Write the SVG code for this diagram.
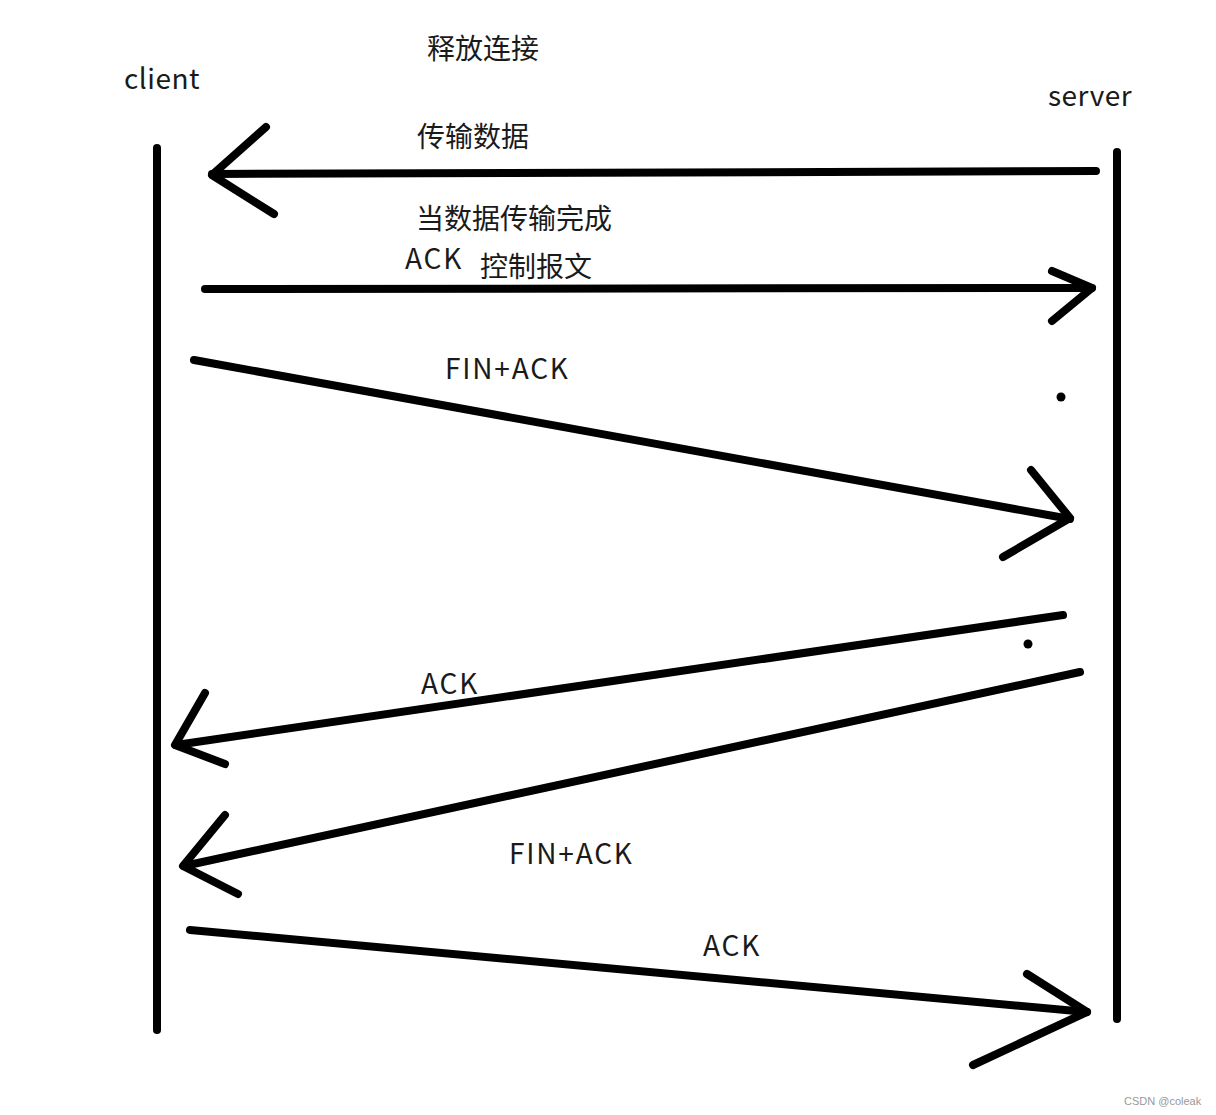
<svg xmlns="http://www.w3.org/2000/svg" width="1216" height="1115" viewBox="0 0 1216 1115">
<style>
.ln{stroke:#000;stroke-width:8;stroke-linecap:round;stroke-linejoin:round;fill:none}
.t{font-family:"Noto Sans CJK SC","Noto Sans",sans-serif;font-size:28px;letter-spacing:1.8px;fill:#1a1a1a}
.c{font-family:"Noto Sans CJK SC","Noto Sans",sans-serif;font-size:28px;fill:#1a1a1a}
</style>
<rect width="1216" height="1115" fill="#fff"/>
<g id="client">
<line class="ln" x1="157" y1="148" x2="157" y2="1030"/>
<text class="t" x="124" y="89" style="letter-spacing:0.5px">client</text>
</g>
<g id="server">
<line class="ln" x1="1117" y1="152" x2="1117" y2="1019"/>
<text class="t" x="1048" y="106" style="letter-spacing:0.5px">server</text>
</g>
<g id="title"><text class="c" x="427" y="59">释放连接</text></g>
<g id="connectors">
<polyline class="ln" points="1096,171 212,174"/>
<polyline class="ln" points="266,127 212,175 274,214"/>
<polyline class="ln" points="205,289 1092,288"/>
<polyline class="ln" points="1052,271 1092,288 1052,321"/>
<polyline class="ln" points="194,360 1070,519"/>
<polyline class="ln" points="1031,470 1070,518 1003,557"/>
<polyline class="ln" points="1063,615 176,745"/>
<polyline class="ln" points="205,693 175,745 225,764"/>
<polyline class="ln" points="1080,672 184,866"/>
<polyline class="ln" points="225,815 183,866 238,894"/>
<polyline class="ln" points="190,930 1087,1012"/>
<polyline class="ln" points="1027,974 1087,1012 973,1065"/>
<circle cx="1061" cy="397" r="4.5" fill="#000"/>
<circle cx="1028" cy="644" r="4.5" fill="#000"/>
</g>
<g id="labels">
<text class="c" x="417" y="147">传输数据</text>
<text class="c" x="416" y="229">当数据传输完成</text>
<text class="t" x="405" y="269">ACK</text>
<text class="c" x="480" y="277">控制报文</text>
<text class="t" x="445" y="379">FIN+ACK</text>
<text class="t" x="421" y="694">ACK</text>
<text class="t" x="509" y="864">FIN+ACK</text>
<text class="t" x="703" y="956">ACK</text>
</g>
<text x="1124" y="1105" font-family="Liberation Sans,sans-serif" font-size="11" fill="#999">CSDN @coleak</text>
</svg>
